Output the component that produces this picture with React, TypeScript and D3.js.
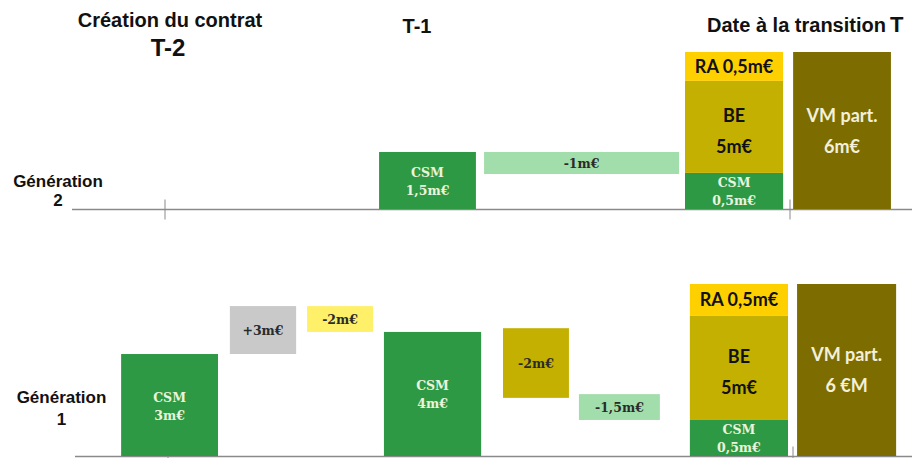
import React, { useRef, useEffect } from "react";
import * as d3 from "d3";

// Génération 2 : boxes (time in years relative to transition T, heights in m€ as drawn)
const gen2Kind = ["csm", "release", "csm", "be", "ra", "vm"];
const gen2Text = [["CSM", "1,5m€"], ["-1m€"], ["CSM", "0,5m€"], ["BE", "5m€"], ["RA 0,5m€"], ["VM part.", "6m€"]];
const gen2Start = [-1.315, -0.979, -0.336, -0.336, -0.336, 0.01];
const gen2End = [-1.005, -0.355, -0.022, -0.022, -0.022, 0.323];
const gen2Low = [0, 0.92, 0, 0.95, 3.37, 0];
const gen2High = [1.5, 1.5, 0.95, 3.37, 4.13, 4.13];

// Génération 1
const gen1Kind = ["csm", "gain", "shock", "csm", "shift", "release", "csm", "be", "ra", "vm"];
const gen1Text = [
  ["CSM", "3m€"], ["+3m€"], ["-2m€"], ["CSM", "4m€"], ["-2m€"], ["-1,5m€"],
  ["CSM", "0,5m€"], ["BE", "5m€"], ["RA 0,5m€"], ["VM part.", "6 €M"],
];
const gen1Start = [-2.15, -1.802, -1.555, -1.309, -0.928, -0.685, -0.33, -0.33, -0.33, 0.013];
const gen1End = [-1.84, -1.59, -1.344, -0.998, -0.717, -0.426, -0.016, -0.016, -0.016, 0.33];
const gen1Low = [0, 3.0, 3.65, 0, 1.71, 1.06, 0, 1.06, 4.12, 0];
const gen1High = [3.0, 4.41, 4.41, 3.65, 3.76, 1.82, 1.06, 4.12, 5.06, 5.06];

const tickYears = [-2, 0];

const serif = "'DejaVu Serif', serif";
const sans = "Lato, 'Liberation Sans', sans-serif";
const arial = "'Liberation Sans', Arial, sans-serif";

const kindStyle = {
  csm: { fill: "#2e9944", color: "#eaf4dc", font: serif, size: 12.5, lh: 18, dy: 5.5 },
  release: { fill: "#a2deab", color: "#2b2b2b", font: serif, size: 12.5, lh: 18, dy: 5 },
  gain: { fill: "#c9c9c9", color: "#2b2b2b", font: serif, size: 12.5, lh: 18, dy: 5 },
  shock: { fill: "#fff06a", color: "#2b2b2b", font: serif, size: 12.5, lh: 18, dy: 5 },
  shift: { fill: "#c4b000", color: "#2b2b2b", font: serif, size: 12.5, lh: 18, dy: 5 },
  be: { fill: "#c4b000", color: "#111111", font: sans, size: 18, lh: 31, dy: 10.5 },
  ra: { fill: "#ffd000", color: "#111111", font: sans, size: 18, lh: 31, dy: 6.5 },
  vm: { fill: "#7d6d00", color: "#f3f0dc", font: sans, size: 18, lh: 31, dy: 6.5 },
};

const W = 912, H = 458;

export default function App() {
  const ref = useRef(null);

  useEffect(() => {
    const svg = d3.select(ref.current);
    svg.selectAll("*").remove();

    const panels = [
      {
        kind: gen2Kind, text: gen2Text, start: gen2Start, end: gen2End, low: gen2Low, high: gen2High,
        x: d3.scaleLinear().domain([-2, 0]).range([165, 790]),
        y: d3.scaleLinear().domain([0, 4.13]).range([209, 52]),
        lineFrom: 72, label: ["Génération", "2"], labelX: 58, labelY: [187, 206],
      },
      {
        kind: gen1Kind, text: gen1Text, start: gen1Start, end: gen1End, low: gen1Low, high: gen1High,
        x: d3.scaleLinear().domain([-2, 0]).range([168, 793]),
        y: d3.scaleLinear().domain([0, 5.06]).range([456, 284]),
        lineFrom: 75, label: ["Génération", "1"], labelX: 61.5, labelY: [403, 425],
      },
    ];

    panels.forEach((p) => {
      const g = svg.append("g");
      const base = p.y(0) + 0.5;

      // baseline + ticks
      g.append("line")
        .attr("x1", p.lineFrom).attr("x2", W)
        .attr("y1", base).attr("y2", base)
        .attr("stroke", "#8a8a8a").attr("stroke-width", 1.4);
      g.selectAll(".tick")
        .data(tickYears)
        .enter()
        .append("line")
        .attr("x1", (d) => p.x(d)).attr("x2", (d) => p.x(d))
        .attr("y1", base - 10).attr("y2", base + 10)
        .attr("stroke", "#8a8a8a").attr("stroke-width", 1);

      const idx = d3.range(p.kind.length);

      g.selectAll(".box")
        .data(idx)
        .enter()
        .append("rect")
        .attr("x", (i) => p.x(p.start[i]))
        .attr("y", (i) => p.y(p.high[i]))
        .attr("width", (i) => p.x(p.end[i]) - p.x(p.start[i]))
        .attr("height", (i) => p.y(p.low[i]) - p.y(p.high[i]))
        .attr("fill", (i) => kindStyle[p.kind[i]].fill);

      idx.forEach((i) => {
        const s = kindStyle[p.kind[i]];
        const cx = (p.x(p.start[i]) + p.x(p.end[i])) / 2;
        const cy = (p.y(p.low[i]) + p.y(p.high[i])) / 2;
        const lines = p.text[i];
        g.selectAll(null)
          .data(lines)
          .enter()
          .append("text")
          .attr("x", cx)
          .attr("y", (d, j) => cy + (j - (lines.length - 1) / 2) * s.lh + s.dy)
          .attr("text-anchor", "middle")
          .attr("font-family", s.font)
          .attr("font-size", s.size)
          .attr("font-weight", "bold")
          .attr("fill", s.color)
          .text((d) => d);
      });

      g.selectAll(null)
        .data(p.label)
        .enter()
        .append("text")
        .attr("x", p.labelX)
        .attr("y", (d, j) => p.labelY[j])
        .attr("text-anchor", "middle")
        .attr("font-family", arial)
        .attr("font-size", 17)
        .attr("font-weight", "bold")
        .attr("fill", "#111")
        .text((d) => d);
    });

    // column headings
    const head = (txt, x, y, size, anchor = "middle") =>
      svg.append("text")
        .attr("x", x).attr("y", y)
        .attr("text-anchor", anchor)
        .attr("font-family", arial)
        .attr("font-size", size)
        .attr("font-weight", "bold")
        .attr("fill", "#111")
        .text(txt);

    head("Création du contrat", 170, 27, 20);
    head("T-2", 168, 56, 24);
    head("T-1", 417, 33, 20);
    head("Date à la transition", 707, 32, 20, "start");
    head("T", 890, 32, 22, "start");
  }, []);

  return (
    <svg
      ref={ref}
      width={W}
      height={H}
      style={{ position: "absolute", left: 0, top: 0, background: "#fff" }}
    />
  );
}
